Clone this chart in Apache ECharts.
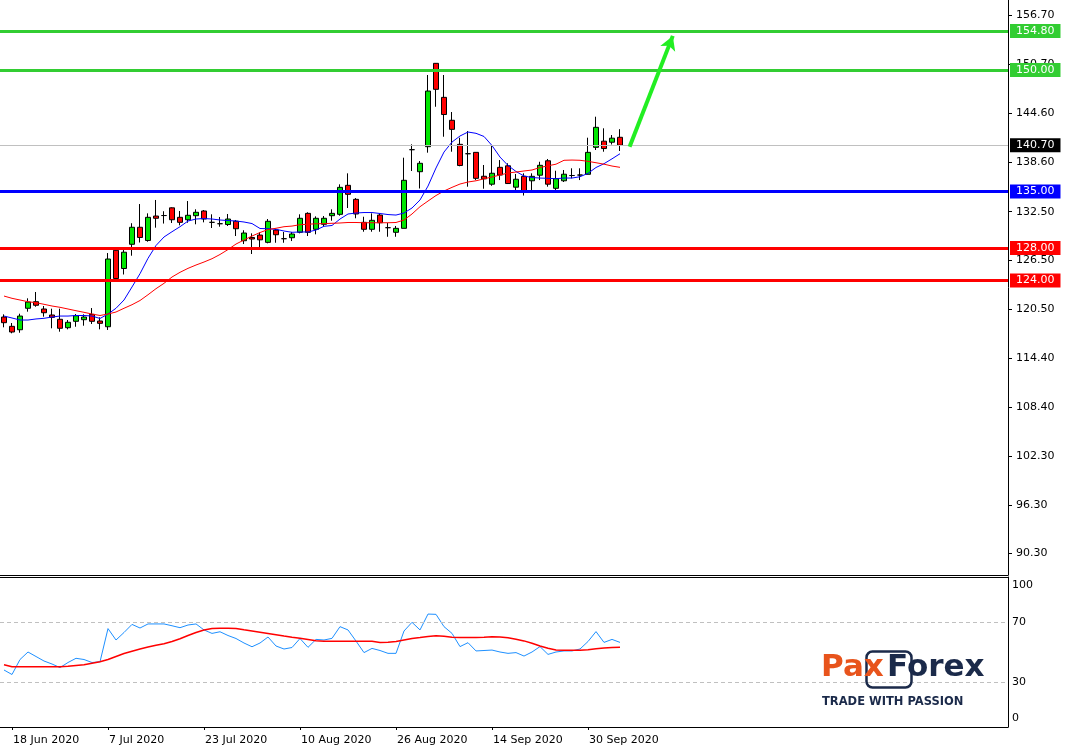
<!DOCTYPE html>
<html><head><meta charset="utf-8">
<script src="https://cdn.jsdelivr.net/npm/echarts@6/dist/echarts.min.js"></script>
<style>html,body{margin:0;padding:0;background:#fff}#c{width:1065px;height:749px}</style>
</head><body><div id="c"></div>
<script>
// ---------- data ----------
const dates = ['17 Jun 2020','18 Jun 2020','19 Jun 2020','22 Jun 2020','23 Jun 2020','24 Jun 2020','25 Jun 2020','26 Jun 2020','29 Jun 2020','30 Jun 2020',
'1 Jul 2020','2 Jul 2020','6 Jul 2020','7 Jul 2020','8 Jul 2020','9 Jul 2020','10 Jul 2020','13 Jul 2020','14 Jul 2020','15 Jul 2020',
'16 Jul 2020','17 Jul 2020','20 Jul 2020','21 Jul 2020','22 Jul 2020','23 Jul 2020','24 Jul 2020','27 Jul 2020','28 Jul 2020','29 Jul 2020',
'30 Jul 2020','31 Jul 2020','3 Aug 2020','4 Aug 2020','5 Aug 2020','6 Aug 2020','7 Aug 2020','10 Aug 2020','11 Aug 2020','12 Aug 2020',
'13 Aug 2020','14 Aug 2020','17 Aug 2020','18 Aug 2020','19 Aug 2020','20 Aug 2020','21 Aug 2020','24 Aug 2020','25 Aug 2020','26 Aug 2020',
'27 Aug 2020','28 Aug 2020','31 Aug 2020','1 Sep 2020','2 Sep 2020','3 Sep 2020','4 Sep 2020','8 Sep 2020','9 Sep 2020','10 Sep 2020',
'11 Sep 2020','14 Sep 2020','15 Sep 2020','16 Sep 2020','17 Sep 2020','18 Sep 2020','21 Sep 2020','22 Sep 2020','23 Sep 2020','24 Sep 2020',
'25 Sep 2020','28 Sep 2020','29 Sep 2020','30 Sep 2020','1 Oct 2020','2 Oct 2020','5 Oct 2020','6 Oct 2020'];

// [open, close, low, high]
const candles = [
[119.49,118.79,118.22,119.82],[118.34,117.64,117.48,118.75],[117.92,119.61,117.55,119.90],[120.57,121.34,120.15,121.80],[121.38,120.94,120.76,122.58],
[120.48,120.02,119.53,120.85],[119.74,119.45,118.10,120.52],[119.21,118.10,117.68,120.52],[118.17,118.84,117.97,119.12],[118.96,119.65,118.29,119.86],
[119.16,119.49,118.42,119.82],[119.82,118.96,118.63,120.60],[119.00,118.71,117.97,119.45],[118.29,126.65,117.89,127.39],[127.73,124.24,124.18,127.89],
[125.48,127.49,124.74,127.76],[128.47,130.57,127.06,131.07],[130.57,129.31,128.69,133.44],[128.94,131.80,128.79,132.29],[131.96,131.68,130.52,133.94],
[132.02,132.02,131.03,132.55],[132.97,131.50,131.10,133.03],[131.80,131.18,130.81,132.58],[131.50,132.05,131.13,133.81],[132.00,132.42,130.94,132.79],
[132.58,131.59,131.18,132.70],[131.18,131.18,130.48,132.17],[131.01,131.01,130.64,131.84],[130.91,131.59,130.73,132.21],[131.32,130.39,129.49,131.47],
[128.91,129.86,128.50,130.20],[129.31,129.12,127.27,129.82],[129.61,129.02,127.97,129.95],[128.71,131.31,128.59,131.59],[130.23,129.65,128.66,130.39],
[129.16,129.16,128.66,129.99],[129.28,129.74,128.87,129.99],[129.95,131.68,129.82,132.17],[132.29,129.95,129.49,132.42],[130.32,131.68,129.70,131.92],
[130.94,131.68,130.64,131.96],[132.00,132.29,131.38,132.79],[132.17,135.50,132.00,135.87],[135.75,134.64,132.95,137.23],[134.02,132.21,131.68,134.18],
[131.18,130.32,130.02,131.87],[130.32,131.43,130.02,132.29],[132.08,131.13,130.02,132.29],[130.52,130.52,129.40,131.10],[129.95,130.44,129.40,130.73],
[130.44,136.37,130.44,139.16],[140.15,140.15,137.52,140.81],[137.43,138.47,135.36,138.75],[140.52,147.39,139.78,149.37],[150.81,147.60,145.45,150.85],
[146.61,144.49,141.75,149.37],[143.78,142.66,139.90,144.80],[140.81,138.20,138.10,141.63],[139.65,139.65,135.58,142.45],[139.82,136.61,136.40,139.82],
[136.87,136.55,135.33,138.26],[135.89,137.24,135.69,140.66],[137.97,137.02,136.40,138.87],[138.16,135.97,135.91,138.47],[135.52,136.50,135.13,137.15],
[136.86,135.01,134.49,137.23],[136.31,136.86,134.96,137.23],[137.00,138.22,136.40,138.66],[138.78,135.89,135.58,139.00],[135.38,136.57,135.08,137.55],
[136.31,137.12,136.16,137.64],[136.96,136.96,136.61,137.85],[137.02,137.02,136.40,137.85],[137.11,139.82,137.11,141.63],[140.44,142.91,140.11,144.22],
[141.20,140.29,139.90,142.79],[141.07,141.57,140.79,141.96],[141.68,140.70,139.99,142.68]];

const maFast = [119.61,119.37,119.12,119.12,119.25,119.33,119.49,119.61,119.61,119.68,
119.68,119.61,119.31,119.86,120.57,121.59,123.20,124.84,126.74,128.32,
129.37,130.02,130.64,131.34,131.59,131.65,131.59,131.47,131.40,131.34,
131.22,131.03,130.42,130.39,130.32,130.11,129.95,129.99,129.99,130.23,
130.69,130.79,131.59,132.21,132.33,132.39,132.39,132.27,132.14,132.08,
132.33,132.95,133.94,135.66,137.89,139.86,141.09,141.84,142.33,142.17,
141.78,140.66,139.24,138.20,137.46,136.90,136.71,136.65,136.61,136.57,
136.65,136.65,136.81,137.23,137.95,138.42,139.02,139.65];

const maSlow = [122.08,121.80,121.59,121.38,121.26,121.06,120.85,120.69,120.48,120.27,
120.07,119.86,119.68,119.86,120.11,120.57,121.01,121.53,122.24,122.99,
123.65,124.43,125.01,125.50,125.91,126.28,126.69,127.21,127.82,128.50,
129.00,129.49,129.92,130.29,130.45,130.64,130.72,130.89,130.95,131.00,
131.02,131.06,131.10,131.16,131.16,131.13,131.13,131.13,131.13,131.16,
131.47,132.21,133.11,133.81,134.49,135.05,135.50,135.91,136.16,136.31,
136.55,136.78,137.02,137.27,137.39,137.52,137.64,137.95,138.16,138.36,
138.84,138.87,138.84,138.71,138.54,138.36,138.13,137.97];

const rsi = [38,35,45,50,47,44,42,39.6,43,45.8,
45,43,43.5,65.6,58,63,68.4,66,68.7,68.7,
68.7,67.5,66.2,68,68.7,64.7,62.4,63.5,61,59,
56,53.5,56,60,54,52,53,59,53.1,58.4,
58,59.1,66.9,64.7,57.3,49.6,52.4,51,49.1,49.1,
64,69.8,64.7,75.3,75.1,66.9,62.4,53.6,56.2,50.7,
51,51.3,50,49.1,49.6,47.3,50,53.6,48.4,50,
50.7,50.7,52,57,63.6,56.4,58.4,56.4];

const rsiSignal = [41.5,40.2,40.2,40.2,40.2,40.2,40.2,40.2,40.5,41,
41.5,42.5,43.5,45,47,49,50.5,52,53.3,54.5,
55.5,57,58.8,61,63,64.7,65.6,65.8,65.8,65.7,
64.8,64,63.2,62.4,61.5,60.6,59.8,59.1,58.3,57.5,
57.2,57.1,57.1,57.1,57.1,57.1,57.1,56.4,56.5,57,
58,59,59.6,60.3,60.9,60.5,59.8,59.6,59.6,59.6,
59.8,60.1,60,59.5,58.5,57.4,55.8,54,52.5,51.3,
51.1,51.1,51.1,51.5,52.2,52.6,53,53.1];

const levels = [154.80, 150.00, 135.00, 128.00, 124.00];
const lastPrice = 140.70;
const priceTicks = [90.30, 96.30, 102.30, 108.40, 114.40, 120.50, 126.50, 132.50, 138.60, 144.60, 150.70, 156.70];
const rsiTicks = [0, 30, 70, 100];
const rsiLevels = [70, 30];
const arrowPath = [[78.2, 140.50], [83.6, 154.20]];
const futureSlots = 48;
const labelEvery = 12;
const logoText = ['Pax', 'Forex', 'TRADE WITH PASSION'];

// ---------- styles ----------
const levelColors = ['#32CD32', '#32CD32', '#0000FF', '#FF0000', '#FF0000'];
const FONT = 'DejaVu Sans';
const cats = dates.concat(Array.from({length: futureSlots}, () => ''));
const N = cats.length;
const showLabel = (i) => i < dates.length && (i - 1) % labelEvery === 0;

const levelLines = levels.map((v, i) => ({
  yAxis: v,
  lineStyle: {color: levelColors[i], width: 3, type: 'solid'},
  label: {backgroundColor: levelColors[i]}
}));
levelLines.push({
  yAxis: lastPrice,
  lineStyle: {color: '#C0C0C0', width: 1, type: 'solid'},
  label: {backgroundColor: '#000000'}
});

const chart = echarts.init(document.getElementById('c'), null, {renderer: 'canvas'});
chart.setOption({
  animation: false,
  backgroundColor: '#ffffff',
  grid: [
    {left: 0, right: 57, top: 0, height: 575},
    {left: 0, right: 57, top: 577, height: 150}
  ],
  xAxis: [
    {type: 'category', gridIndex: 0, data: cats, boundaryGap: true,
     axisLine: {onZero: false, lineStyle: {color: '#000', width: 1}}, axisTick: {show: false},
     axisLabel: {show: false}, splitLine: {show: false}},
    {type: 'category', gridIndex: 1, data: cats, boundaryGap: true, position: 'bottom',
     axisLine: {onZero: false, lineStyle: {color: '#000', width: 1}},
     axisTick: {show: true, alignWithLabel: true, interval: (i) => showLabel(i), length: 3, lineStyle: {color: '#000'}},
     axisLabel: {interval: (i) => showLabel(i), align: 'left', margin: 8, color: '#000',
       fontFamily: FONT, fontSize: 11, padding: [0, 0, 0, 1]},
     splitLine: {show: false}},
    {type: 'value', gridIndex: 0, min: -0.5, max: N - 0.5, show: false,
     axisLine: {onZero: false}},
    {type: 'category', gridIndex: 1, data: cats, position: 'top',
     axisLine: {onZero: false, lineStyle: {color: '#000', width: 1}}, axisTick: {show: false},
     axisLabel: {show: false}, splitLine: {show: false}}
  ],
  yAxis: [
    {type: 'value', gridIndex: 0, position: 'right', min: 87.64, max: 158.63,
     axisLine: {show: true, onZero: false, lineStyle: {color: '#000', width: 1}},
     axisTick: {show: true, customValues: priceTicks, length: 4, lineStyle: {color: '#000'}},
     axisLabel: {customValues: priceTicks, formatter: (v) => v.toFixed(2), margin: 8,
       color: '#000', fontFamily: FONT, fontSize: 11},
     splitLine: {show: false}},
    {type: 'value', gridIndex: 1, position: 'right', min: 0, max: 100,
     axisLine: {show: true, onZero: false, lineStyle: {color: '#000', width: 1}},
     axisTick: {show: false},
     axisLabel: {customValues: rsiTicks, margin: 4, color: '#000', fontFamily: FONT, fontSize: 11,
       lineHeight: 17, verticalAlignMinLabel: 'bottom', verticalAlignMaxLabel: 'top'},
     splitLine: {show: false}}
  ],
  series: [
    {type: 'candlestick', name: 'price', xAxisIndex: 0, yAxisIndex: 0, data: candles, barWidth: 5,
     itemStyle: {color: '#00E600', color0: '#FF0000', borderColor: '#000', borderColor0: '#000',
       borderColorDoji: '#000', borderWidth: 1},
     markLine: {silent: true, symbol: ['none', 'none'], animation: false,
       label: {show: true, position: 'end', distance: 2, formatter: (p) => p.value.toFixed(2),
         color: '#fff', fontFamily: FONT, fontSize: 11, padding: [1, 6, 0, 6], lineHeight: 13},
       data: levelLines},
     z: 3},
    {type: 'line', name: 'MA fast', xAxisIndex: 0, yAxisIndex: 0, data: maFast, showSymbol: false,
     symbol: 'none', lineStyle: {color: '#0000FF', width: 1}, z: 4},
    {type: 'line', name: 'MA slow', xAxisIndex: 0, yAxisIndex: 0, data: maSlow, showSymbol: false,
     symbol: 'none', lineStyle: {color: '#FF0000', width: 1}, z: 4},
    {type: 'line', name: 'arrow', xAxisIndex: 2, yAxisIndex: 0, data: [],
     markLine: {silent: true, symbol: ['none', 'arrow'], symbolSize: [12, 14], animation: false,
       lineStyle: {color: '#22EE22', width: 4, type: 'solid'}, label: {show: false},
       data: [[{coord: arrowPath[0]}, {coord: arrowPath[1]}]]}},
    {type: 'line', name: 'RSI', xAxisIndex: 1, yAxisIndex: 1, data: rsi, showSymbol: false,
     symbol: 'none', lineStyle: {color: '#1E90FF', width: 1},
     markLine: {silent: true, symbol: ['none', 'none'], animation: false, label: {show: false},
       lineStyle: {color: '#C0C0C0', width: 1, type: [4, 3]},
       data: rsiLevels.map((v) => ({yAxis: v}))}},
    {type: 'line', name: 'RSI signal', xAxisIndex: 1, yAxisIndex: 1, data: rsiSignal, showSymbol: false,
     symbol: 'none', lineStyle: {color: '#FF0000', width: 1.5}}
  ],
  graphic: [
    {type: 'rect', left: 864, top: 649, shape: {width: 45, height: 36, r: 6},
     style: {fill: 'none', stroke: '#1B2A4A', lineWidth: 2.5}, z: 100},
    {type: 'text', x: 821, y: 683, style: {text: logoText[0], fill: '#E8541C',
      font: 'bold 31px "DejaVu Sans"', textVerticalAlign: 'bottom'}, z: 101},
    {type: 'text', x: 887, y: 683, style: {text: logoText[1], fill: '#1B2A4A',
      font: 'bold 31px "DejaVu Sans"', textVerticalAlign: 'bottom'}, z: 101},
    {type: 'text', x: 822, y: 702, style: {text: logoText[2], fill: '#1B2A4A',
      font: 'bold 11.5px "DejaVu Sans"', textVerticalAlign: 'middle'}, z: 101}
  ]
});
</script></body></html>
